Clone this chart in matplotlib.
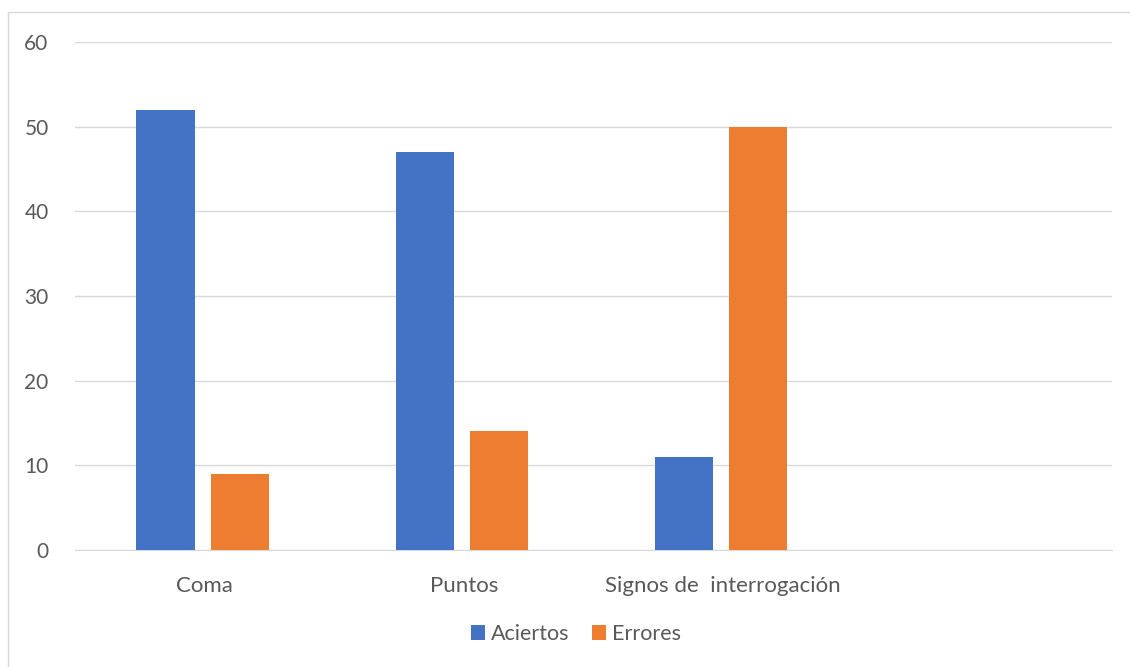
import matplotlib.pyplot as plt
import numpy as np
from matplotlib.patches import Rectangle

categories = ['Coma', 'Puntos', 'Signos de  interrogación', '']
aciertos = [52, 47, 11, 0]
errores = [9, 14, 50, 0]

plt.rcParams['font.family'] = ['Lato', 'DejaVu Sans']

fig = plt.figure(figsize=(11.3, 6.67), dpi=100)
ax = fig.add_axes([75 / 1130, 1 - 550 / 667, (1112 - 75) / 1130, (550 - 42) / 667])

# chart area border (only left/top visible in the reference)
fig.patches.append(Rectangle((8 / 1130, -0.1), 1.2, 1 - 12 / 667 + 0.1,
                             transform=fig.transFigure, fill=False,
                             edgecolor='#D9D9D9', linewidth=1))

x = np.arange(len(categories))
w = 0.224
off = 0.143
shift = -0.008
ax.bar(x[:3] - off + shift, aciertos[:3], w, color='#4472C4', label='Aciertos', zorder=3)
ax.bar(x[:3] + off + shift, errores[:3], w, color='#ED7D31', label='Errores', zorder=3)

ax.set_xlim(-0.5, 3.5)
ax.set_ylim(0, 60)
ax.set_yticks(range(0, 61, 10))
ax.set_xticks(x)
ax.set_xticklabels(categories, fontsize=16)
ax.grid(axis='y', color='#D9D9D9', linewidth=1, zorder=0)
for s in ['top', 'right', 'left']:
    ax.spines[s].set_visible(False)
ax.spines['bottom'].set_color('#D9D9D9')
ax.tick_params(axis='both', length=0, labelcolor='#595959')
ax.tick_params(axis='y', pad=19, labelsize=15)
ax.tick_params(axis='x', pad=19)

ax.legend(loc='center', bbox_to_anchor=(576 / 1130, 1 - 634 / 667), bbox_transform=fig.transFigure,
          ncol=2, frameon=False, fontsize=15.5, handlelength=0.65, handleheight=0.65,
          handletextpad=0.28, columnspacing=1.07, labelcolor='#595959')

fig.savefig('out.png', dpi=100)
